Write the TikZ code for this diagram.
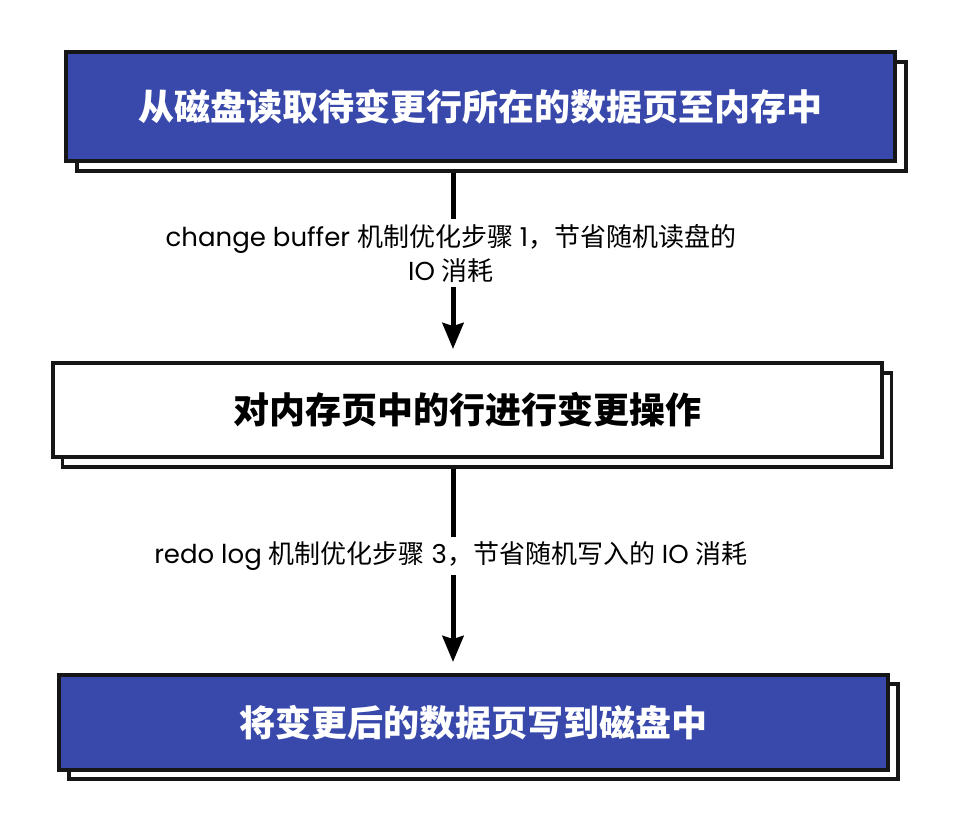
\documentclass[tikz,border=0pt]{standalone}
\usepackage{fontspec}
\setmainfont{Poppins}
\newfontfamily\cjk{Noto Sans CJK SC}
\newcommand{\zh}[1]{{\cjk #1}}
\usetikzlibrary{arrows.meta}
\definecolor{stepblue}{HTML}{3949AB}
\definecolor{edgeblack}{HTML}{161616}
\begin{document}
\begin{tikzpicture}[x=1pt,y=-1pt]
    \tikzset{every node/.style={inner sep=0pt}}
    \tikzset{shadowbox/.style={draw=edgeblack, line width=3.5pt, fill=white, minimum width=829pt, minimum height=#1}}
    \tikzset{mainbox/.style={draw=edgeblack, line width=4pt, minimum width=829pt, minimum height=#1}}
    \tikzset{title/.style={font=\cjk\bfseries\fontsize{36}{36}\selectfont}}
    \tikzset{note/.style={fill=white, align=center, inner sep=5pt, font=\fontsize{26}{34}\selectfont}}
    \tikzset{flow/.style={-{Stealth[length=26pt,width=21pt,inset=3pt]}, line width=5pt, draw=black}}

    \useasboundingbox[fill=white] (0,0) rectangle (956,830);

    \node[shadowbox=109pt] (s1) at (491.5,116.5) {};
    \node[mainbox=109pt, fill=stepblue, text=white, title] (b1) at (480.5,106.5) {从磁盘读取待变更行所在的数据页至内存中};

    \node[shadowbox=94pt] (s2) at (477,420) {};
    \node[mainbox=94pt, fill=white, text=black, title] (b2) at (467,410) {对内存页中的行进行变更操作};

    \node[shadowbox=95pt] (s3) at (483.5,731.5) {};
    \node[mainbox=95pt, fill=stepblue, text=white, title] (b3) at (473.5,722.5) {将变更后的数据页写到磁盘中};

    \coordinate (ax) at (453,0);
    \draw[flow, shorten >=12pt] (s1.south -| ax) -- (b2.north -| ax);
    \draw[flow, shorten >=11pt] (s2.south -| ax) -- (b3.north -| ax);

    \node[note] (n1) at (451,253) {change buffer \zh{机制优化步骤} 1\zh{，节省随机读盘的}\\IO \zh{消耗}};
    \node[note] (n2) at (451,556) {redo log \zh{机制优化步骤} 3\zh{，节省随机写入的} IO \zh{消耗}};
\end{tikzpicture}
\end{document}
